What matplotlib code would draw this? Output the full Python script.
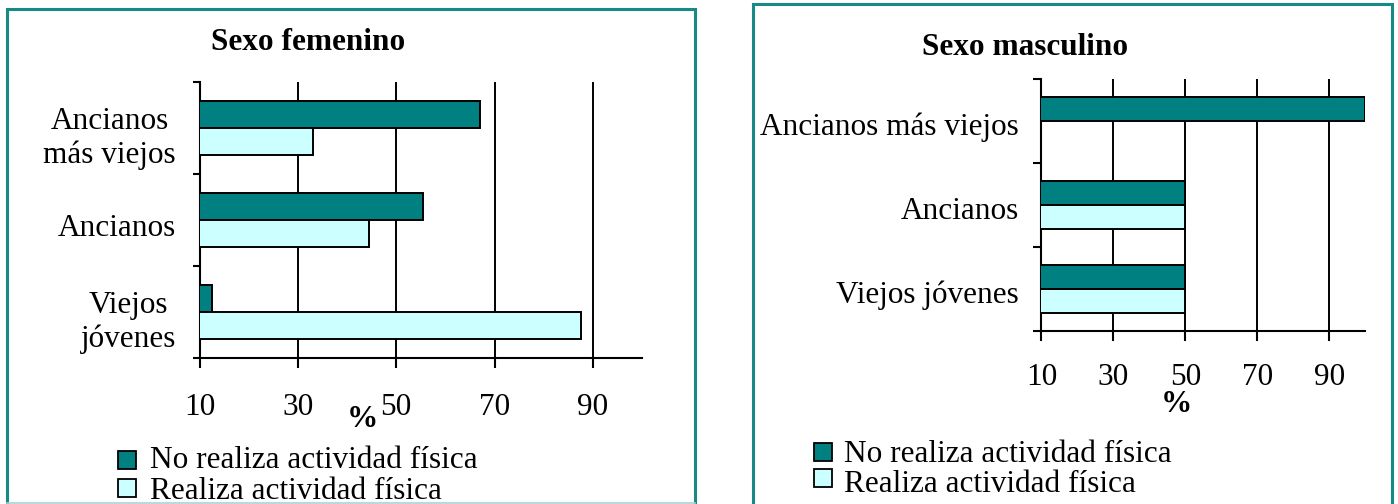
import matplotlib
matplotlib.use("Agg")
import matplotlib.pyplot as plt
from matplotlib.lines import Line2D
from matplotlib.patches import Rectangle

plt.rcParams["font.family"] = ["Liberation Serif", "DejaVu Serif"]

# Age groups, bottom to top
groups_fem = ["Viejos\njóvenes", "Ancianos", "Ancianos\nmás viejos"]
groups_masc = ["Viejos jóvenes", "Ancianos", "Ancianos más viejos"]

# Percentages per group
fem_no_activity = [12.5, 55.5, 67]
fem_activity = [87.5, 44.5, 33]
masc_no_activity = [50, 50, 100]
masc_activity = [50, 50, 0]

series_labels = ["No realiza actividad física", "Realiza actividad física"]
x_ticks = [10, 30, 50, 70, 90]

TEAL = "#008080"
LIGHT = "#ccffff"
FRAME = "#178a86"
FS = 22.5

W, H = 1398, 504
fig = plt.figure(figsize=(W / 100, H / 100), dpi=100)


def px(x0, y0, x1, y1):
    # pixel box -> figure fraction [left, bottom, width, height]
    return [x0 / W, 1 - y1 / H, (x1 - x0) / W, (y1 - y0) / H]


def draw_panel(ax, groups, no_vals, yes_vals, title, title_xy, pct_xy,
               ylabel_pad, ytick_len, xlabel_pad, label_shift):
    pos = [i + 0.5 for i in range(len(groups))]
    h = 0.29
    ax.barh([p + h / 2 for p in pos], no_vals, height=h, color=TEAL,
            edgecolor="black", linewidth=1.4, zorder=3)
    ax.barh([p - h / 2 for p in pos], yes_vals, height=h, color=LIGHT,
            edgecolor="black", linewidth=1.4, zorder=3)

    ax.set_xlim(10, 100)
    ax.set_ylim(0, len(groups))
    ax.set_xticks(x_ticks)
    ax.set_yticks(range(len(groups) + 1))
    ax.set_yticklabels([])
    # group names sit a touch below the middle of each band
    ax.set_yticks([p - label_shift for p in pos], minor=True)
    ax.set_yticklabels(groups, minor=True, fontsize=FS)
    for t in ax.get_yticklabels(minor=True):
        t.set_multialignment("center")
        t.set_linespacing(1.2)
    ax.tick_params(axis="y", which="minor", length=0, pad=ylabel_pad + ytick_len)
    ax.tick_params(axis="y", which="major", direction="out", length=ytick_len,
                   width=1.5)
    ax.tick_params(axis="x", direction="out", length=7, width=1.5,
                   labelsize=FS, pad=xlabel_pad)

    ax.grid(axis="x", color="black", linewidth=1.4)
    ax.set_axisbelow(True)
    for s in ["top", "right"]:
        ax.spines[s].set_visible(False)
    for s in ["left", "bottom"]:
        ax.spines[s].set_linewidth(1.5)

    ax.text(title_xy[0], title_xy[1], title, transform=ax.transAxes,
            ha="center", va="baseline", fontsize=FS, fontweight="bold")
    ax.text(pct_xy[0], pct_xy[1], "%", transform=ax.transAxes,
            ha="center", va="baseline", fontsize=FS, fontweight="bold")


def draw_legend(x_sq, sq_rows, x_txt, baselines):
    colors = [TEAL, LIGHT]
    for (y0, y1), base, col, lab in zip(sq_rows, baselines, colors, series_labels):
        fig.patches.append(Rectangle((x_sq / W, 1 - y1 / H), 18 / W, (y1 - y0) / H,
                                     transform=fig.transFigure, facecolor=col,
                                     edgecolor="black", linewidth=1.3))
        fig.text(x_txt / W, 1 - base / H, lab, fontsize=FS, ha="left",
                 va="baseline")


def frame(x0, x1, y_top, y_bot, bottom_color=None):
    xs = [x0 / W, x0 / W, x1 / W, x1 / W]
    ys = [1 - y_bot / H, 1 - y_top / H, 1 - y_top / H, 1 - y_bot / H]
    fig.add_artist(Line2D(xs, ys, color=FRAME, linewidth=2.2,
                          solid_joinstyle="miter"))
    if bottom_color:
        fig.add_artist(Line2D([x0 / W, x1 / W], [1 - y_bot / H] * 2,
                              color=bottom_color, linewidth=1.2))


# panel frames
frame(6.7, 694.7, 8.5, 503, bottom_color="#a8d4d2")
frame(753, 1391.7, 4, 520)

ax1 = fig.add_axes(px(199.5, 82, 642, 358))
draw_panel(ax1, groups_fem, fem_no_activity, fem_activity, "Sexo femenino",
           (0.245, 1.116), (0.367, -0.25), 12, 5, 18, 0.055)
draw_legend(118, [(451, 469), (479, 497)], 150, [468, 499])

ax2 = fig.add_axes(px(1041.4, 79, 1365.3, 331))
draw_panel(ax2, groups_masc, masc_no_activity, masc_activity, "Sexo masculino",
           (-0.05, 1.095), (0.417, -0.32), 10, 6, 16, 0.03)
draw_legend(814, [(443, 461), (469, 487)], 844, [462, 492])

fig.savefig("out.png", dpi=100)
